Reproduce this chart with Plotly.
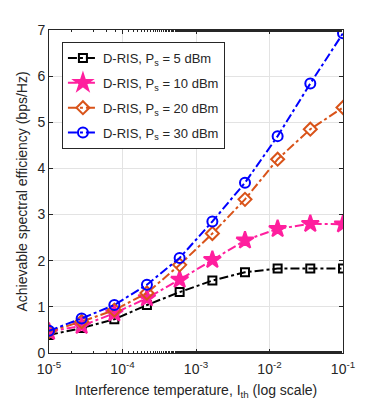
import plotly.graph_objects as go

# interference temperature points (10 log-spaced values)
i_th = [1e-5, 2.78e-5, 7.74e-5, 2.15e-4, 5.99e-4, 1.67e-3, 4.64e-3, 1.29e-2, 3.59e-2, 1e-1]

se_5dbm = [0.39, 0.54, 0.73, 1.04, 1.32, 1.57, 1.75, 1.83, 1.83, 1.83]
se_10dbm = [0.46, 0.59, 0.86, 1.19, 1.59, 2.02, 2.44, 2.69, 2.80, 2.79]
se_20dbm = [0.47, 0.68, 0.93, 1.30, 1.91, 2.59, 3.33, 4.20, 4.85, 5.32]
se_30dbm = [0.48, 0.75, 1.04, 1.48, 2.06, 2.85, 3.69, 4.70, 5.84, 6.93]

x_ticks = [1e-5, 1e-4, 1e-3, 1e-2, 1e-1]
x_ticktext = ['10<sup>-5</sup>', '10<sup>-4</sup>', '10<sup>-3</sup>', '10<sup>-2</sup>', '10<sup>-1</sup>']
y_ticks = [0, 1, 2, 3, 4, 5, 6, 7]

series = [
    ('D-RIS, P<sub>s</sub> = 5 dBm', se_5dbm, 'black', 'square-open', 8),
    ('D-RIS, P<sub>s</sub> = 10 dBm', se_10dbm, '#ff1f9e', 'star', 13),
    ('D-RIS, P<sub>s</sub> = 20 dBm', se_20dbm, '#d95319', 'diamond-open', 10),
    ('D-RIS, P<sub>s</sub> = 30 dBm', se_30dbm, '#0000ff', 'circle-open', 10),
]

fig = go.Figure()
for i, (name, vals, color, symbol, size) in enumerate(series):
    fig.add_trace(go.Scatter(
        x=i_th, y=vals, name=name, mode='lines+markers', legendgroup=f'g{i}',
        line=dict(color=color, width=2, dash='dashdot'),
        marker=dict(symbol=symbol, size=size, color=color,
                    line=dict(color=color, width=2)),
    ))

axis_color = '#262626'
# page body adds an 8px offset, so margins are shifted to compensate
fig.update_layout(
    width=379, height=410,
    margin=dict(l=41, r=44, t=22, b=65),
    paper_bgcolor='white', plot_bgcolor='white',
    font=dict(family='Liberation Sans, Arial, sans-serif', size=13, color=axis_color),
    showlegend=True,
    legend=dict(
        x=0.044, y=0.963, xanchor='left', yanchor='top',
        bgcolor='white', bordercolor=axis_color, borderwidth=1,
        font=dict(size=13), tracegroupgap=5,
    ),
    xaxis=dict(
        type='log', range=[-5, -1],
        tickvals=x_ticks, ticktext=x_ticktext,
        ticks='inside', ticklen=4, tickcolor=axis_color,
        minor=dict(ticks='inside', ticklen=2, tickcolor=axis_color, showgrid=False),
        showline=True, linecolor=axis_color, linewidth=1, mirror='ticks',
        showgrid=True, gridcolor='#e3e3e3', gridwidth=1,
        title=dict(text='Interference temperature, I<sub>th</sub> (log scale)',
                   font=dict(size=14), standoff=9),
        tickfont=dict(size=14), ticklabelstandoff=3,
        zeroline=False,
    ),
    yaxis=dict(
        range=[0, 7], tickvals=y_ticks,
        ticks='inside', ticklen=4, tickcolor=axis_color,
        showline=True, linecolor=axis_color, linewidth=1, mirror='ticks',
        showgrid=True, gridcolor='#e3e3e3', gridwidth=1,
        title=dict(text='Achievable spectral efficiency (bps/Hz)',
                   font=dict(size=14), standoff=6),
        tickfont=dict(size=14),
        zeroline=False,
    ),
)

fig.write_html('out.html')
